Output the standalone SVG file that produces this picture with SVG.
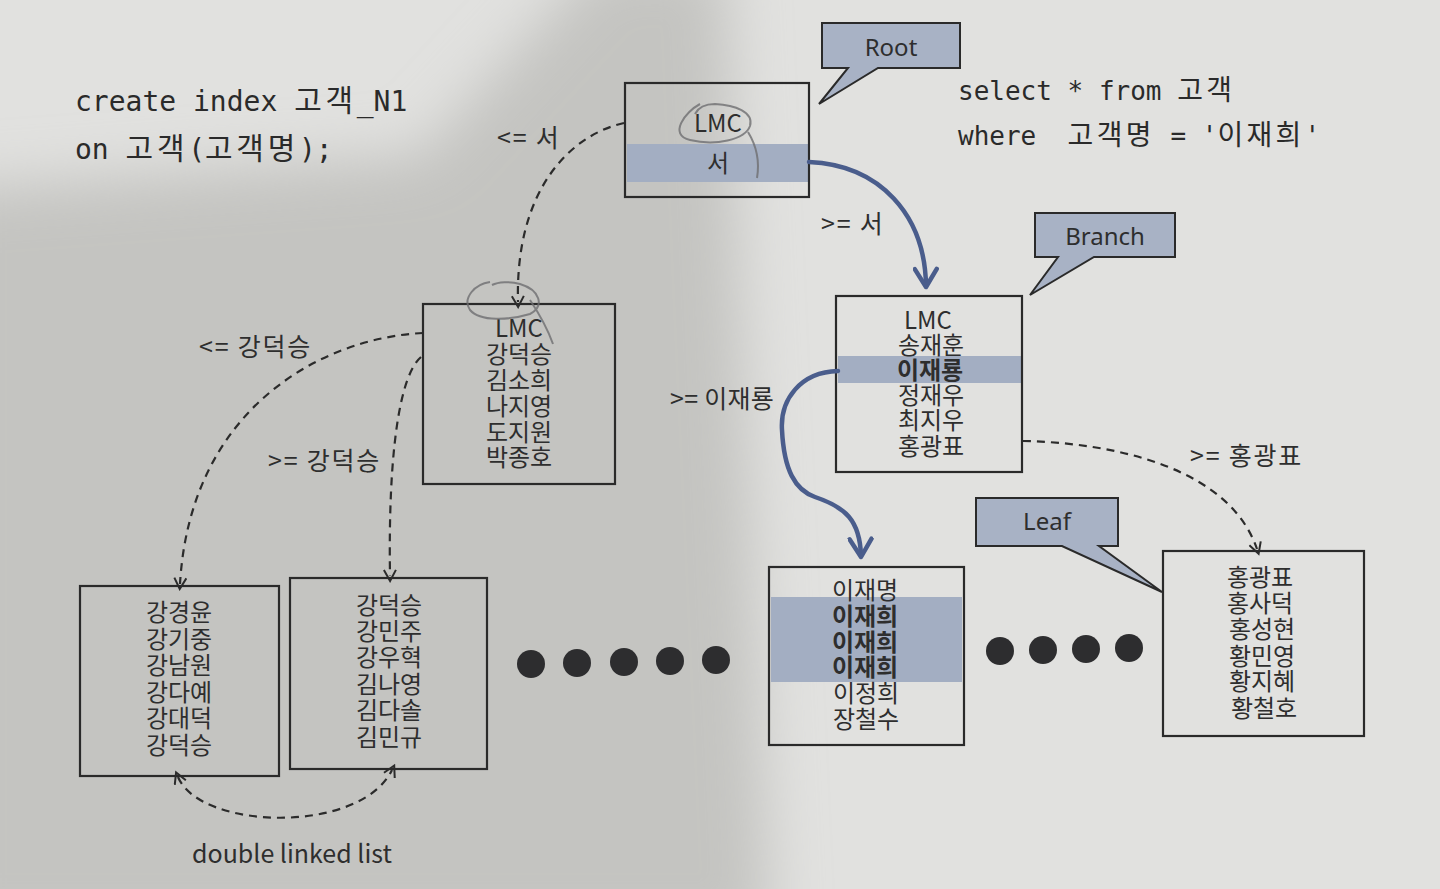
<svg xmlns="http://www.w3.org/2000/svg" width="1440" height="889" viewBox="0 0 1440 889">
<defs>
<filter id="blur" x="-20%" y="-20%" width="140%" height="140%"><feGaussianBlur stdDeviation="28"/></filter>
<marker id="ah" viewBox="0 0 14 14" refX="7" refY="7" markerWidth="14" markerHeight="14" orient="auto-start-reverse" markerUnits="userSpaceOnUse"><path d="M1,1 L12,7 L1,13" fill="none" stroke="#2b2b2b" stroke-width="2"/></marker>
<marker id="bh" viewBox="0 0 26 26" refX="20" refY="13" markerWidth="26" markerHeight="26" orient="auto" markerUnits="userSpaceOnUse"><path d="M3,2 L21,13 L3,24" fill="none" stroke="#4a5d8c" stroke-width="4.5" stroke-linecap="round" stroke-linejoin="round"/></marker>
<style>
.box{fill:none;stroke:#2a2a2a;stroke-width:2.2}
.band{fill:#a3aec2}
.call{fill:#a8b2c5;stroke:#2a2a2a;stroke-width:2}
.t{font-family:"Noto Sans CJK KR","Noto Sans",sans-serif;font-size:24px;fill:#2e2e2e;text-anchor:middle}
.c{font-family:"Noto Sans","Noto Sans CJK KR",sans-serif;font-size:24px;fill:#2e2e2e;text-anchor:middle}
.b{font-weight:bold}
.lbl{font-family:"Noto Sans CJK KR","Noto Sans",sans-serif;font-size:25px;fill:#2e2e2e;letter-spacing:1.8px}
.tight{letter-spacing:0.3px}
.dl{font-family:"Noto Sans CJK KR","Noto Sans",sans-serif;font-size:25px;fill:#2e2e2e}
.code{font-family:"DejaVu Sans Mono","Noto Sans CJK KR",monospace;fill:#2a2a2a;white-space:pre}
.big{font-size:28px}
.sm{font-size:26px}
.kb{font-size:30px;letter-spacing:3.7px}
.ks{font-size:28px;letter-spacing:3.3px}
.dash{fill:none;stroke:#2b2b2b;stroke-width:2.2;stroke-dasharray:8 6}
.blue{fill:none;stroke:#4a5d8c;stroke-width:4.5;stroke-linecap:round}
.pencil{fill:none;stroke:#6e6e70;stroke-width:2;opacity:0.8}
.dot{fill:#2d2d2f}
</style>
</defs>
<rect width="1440" height="889" fill="#e1e1df"/>
<path d="M-60,190 L420,155 L600,-40 L725,-40 L740,300 L770,940 L-60,940 Z" fill="#c4c4c1" filter="url(#blur)"/>

<g id="code-create">
<text class="code big" x="75" y="111">create index <tspan class="kb">고객</tspan>_N1</text>
<text class="code big" x="75" y="159">on <tspan class="kb">고객</tspan>(<tspan class="kb">고객명</tspan>);</text>
</g>
<g id="code-select">
<text class="code sm" x="958" y="100">select * from <tspan class="ks">고객</tspan></text>
<text class="code sm" x="958" y="145">where  <tspan class="ks">고객명</tspan> = '<tspan class="ks">이재희</tspan>'</text>
</g>

<g id="callout-root">
<path class="call" d="M822,23 H960 V68 H878 L819,104 L848,68 H822 Z"/>
<text class="c" x="891" y="56">Root</text>
</g>
<g id="callout-branch">
<path class="call" d="M1035,213 H1175 V257 H1094 L1030,295 L1058,257 H1035 Z"/>
<text class="c" x="1105" y="245">Branch</text>
</g>
<g id="callout-leaf">
<path class="call" d="M976,498 H1118 V546 H1099 L1162,592 L1062,546 H976 Z"/>
<text class="c" x="1047" y="530">Leaf</text>
</g>

<g id="root">
<rect class="band" x="627" y="144" width="181" height="38"/>
<rect class="box" x="625" y="83" width="184" height="114"/>
<text class="t" x="718" y="132">LMC</text>
<text class="t" x="718" y="172">서</text>
<path class="pencil" d="M700,104 C685,112 668,135 690,140 C715,146 745,140 750,126 C754,112 735,105 715,104 C705,104 698,108 695,114 M748,132 C756,145 760,160 757,178"/>
</g>

<g id="branch-lmc">
<rect class="box" x="423" y="304" width="192" height="180"/>
<text class="t" x="519" y="337">LMC</text>
<text class="t" x="519" y="363">강덕승</text>
<text class="t" x="519" y="389">김소희</text>
<text class="t" x="519" y="415">나지영</text>
<text class="t" x="519" y="441">도지원</text>
<text class="t" x="519" y="466">박종호</text>
<path class="pencil" d="M490,282 C475,284 462,298 470,310 C480,322 510,320 530,314 C545,306 540,290 520,284 C510,281 498,282 492,285 M530,300 C540,315 548,330 553,344"/>
</g>

<g id="branch">
<rect class="band" x="838" y="356" width="183" height="27"/>
<rect class="box" x="836" y="296" width="186" height="176"/>
<text class="t" x="928" y="329">LMC</text>
<text class="t" x="931" y="354">송재훈</text>
<text class="t b" x="930" y="379">이재룡</text>
<text class="t" x="931" y="404">정재우</text>
<text class="t" x="931" y="429">최지우</text>
<text class="t" x="931" y="455">홍광표</text>
</g>

<g id="leaf1">
<rect class="box" x="80" y="586" width="199" height="190"/>
<text class="t" x="179" y="621">강경윤</text>
<text class="t" x="179" y="648">강기중</text>
<text class="t" x="179" y="674">강남원</text>
<text class="t" x="179" y="701">강다예</text>
<text class="t" x="179" y="727">강대덕</text>
<text class="t" x="179" y="754">강덕승</text>
</g>

<g id="leaf2">
<rect class="box" x="290" y="578" width="197" height="191"/>
<text class="t" x="389" y="614">강덕승</text>
<text class="t" x="389" y="640">강민주</text>
<text class="t" x="389" y="666">강우혁</text>
<text class="t" x="389" y="693">김나영</text>
<text class="t" x="389" y="719">김다솔</text>
<text class="t" x="389" y="746">김민규</text>
</g>

<g id="dots-left">
<circle class="dot" cx="531" cy="664" r="14"/>
<circle class="dot" cx="577" cy="663" r="14"/>
<circle class="dot" cx="624" cy="662" r="14"/>
<circle class="dot" cx="670" cy="661" r="14"/>
<circle class="dot" cx="716" cy="660" r="14"/>
</g>

<g id="leaf3">
<rect class="band" x="771" y="597" width="191" height="85"/>
<rect class="box" x="769" y="567" width="195" height="178"/>
<text class="t" x="865" y="599">이재명</text>
<text class="t b" x="865" y="625">이재희</text>
<text class="t b" x="865" y="651">이재희</text>
<text class="t b" x="865" y="676">이재희</text>
<text class="t" x="866" y="702">이정희</text>
<text class="t" x="866" y="728">장철수</text>
</g>

<g id="dots-right">
<circle class="dot" cx="1000" cy="651" r="14"/>
<circle class="dot" cx="1043" cy="650" r="14"/>
<circle class="dot" cx="1086" cy="649" r="14"/>
<circle class="dot" cx="1129" cy="648" r="14"/>
</g>

<g id="leaf4">
<rect class="box" x="1163" y="551" width="201" height="185"/>
<text class="t" x="1260" y="586">홍광표</text>
<text class="t" x="1260" y="612">홍사덕</text>
<text class="t" x="1262" y="638">홍성현</text>
<text class="t" x="1262" y="665">황민영</text>
<text class="t" x="1262" y="690">황지혜</text>
<text class="t" x="1264" y="717">황철호</text>
</g>

<g id="connectors">
<path class="dash" d="M624,123 C570,135 515,190 518,302" marker-end="url(#ah)"/>
<path class="blue" d="M809,162 C880,165 925,215 926,286" marker-end="url(#bh)"/>
<path class="blue" d="M838,371 C800,372 780,400 782,430 C784,470 795,490 815,497 C845,507 860,520 861,556" marker-end="url(#bh)"/>
<path class="dash" d="M1023,441 C1120,443 1230,470 1257,549" marker-end="url(#ah)"/>
<path class="dash" d="M423,333 C320,338 190,410 180,584" marker-end="url(#ah)"/>
<path class="dash" d="M421,357 C400,375 388,450 390,576" marker-end="url(#ah)"/>
<path class="dash" d="M178,777 C200,830 360,835 392,770" marker-start="url(#ah)" marker-end="url(#ah)"/>
</g>

<g id="labels">
<text class="lbl" x="497" y="147">&lt;= 서</text>
<text class="lbl" x="821" y="233">&gt;= 서</text>
<text class="lbl tight" x="670" y="408">&gt;= 이재룡</text>
<text class="lbl" x="1190" y="465">&gt;= 홍광표</text>
<text class="lbl" x="199" y="356">&lt;= 강덕승</text>
<text class="lbl" x="268" y="470">&gt;= 강덕승</text>
<text class="dl" x="192" y="863">double linked list</text>
</g>
</svg>
